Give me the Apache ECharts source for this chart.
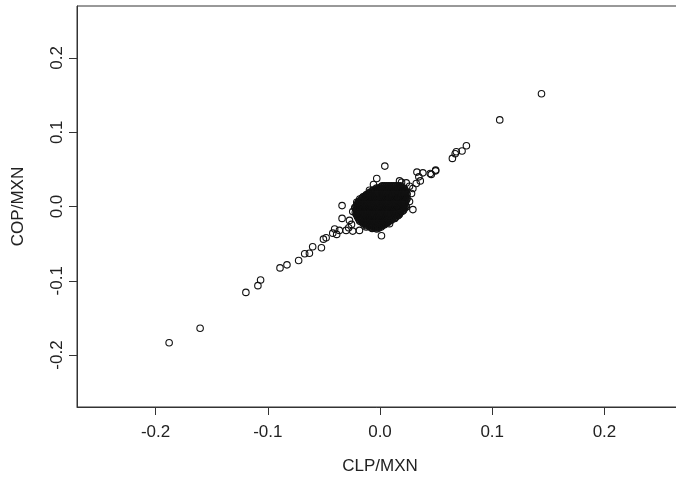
<!DOCTYPE html>
<html>
<head>
<meta charset="utf-8">
<script src="https://cdn.jsdelivr.net/npm/echarts@6/dist/echarts.min.js"></script>
<style>html,body{margin:0;padding:0;background:#fff;}#c{width:676px;height:478px;}</style>
</head>
<body>
<div id="c"></div>
<script>
// Axis tick values
const xTicks = [-0.2, -0.1, 0.0, 0.1, 0.2];
const yTicks = [-0.2, -0.1, 0.0, 0.1, 0.2];

// Dense core of the cloud: row y-values (COP/MXN) and the CLP/MXN values in each row
const coreRowY = [
  0.028, 0.0265, 0.025, 0.0235, 0.022, 0.0205, 0.019, 0.0175, 0.016, 0.0145,
  0.013, 0.0115, 0.010, 0.0085, 0.007, 0.0055, 0.004, 0.0025, 0.001, -0.0005,
  -0.002, -0.0035, -0.005, -0.0065, -0.008, -0.0095, -0.011, -0.0125, -0.014, -0.0155,
  -0.017, -0.0185, -0.020, -0.0215, -0.023, -0.0245, -0.026, -0.0275, -0.029
];
const coreRowX = [
  [0.002,0.004,0.006,0.008,0.010,0.012,0.014,0.016,0.018],
  [0.001,0.003,0.005,0.007,0.009,0.011,0.013,0.015,0.017,0.019],
  [-0.003,-0.001,0.001,0.003,0.005,0.007,0.009,0.011,0.013,0.015,0.017,0.019,0.021],
  [-0.004,-0.002,0.000,0.002,0.004,0.006,0.008,0.010,0.012,0.014,0.016,0.018,0.020,0.022],
  [-0.006,-0.004,-0.002,0.000,0.002,0.004,0.006,0.008,0.010,0.012,0.014,0.016,0.018,0.020,0.022],
  [-0.007,-0.005,-0.003,-0.001,0.001,0.003,0.005,0.007,0.009,0.011,0.013,0.015,0.017,0.019,0.021,0.023],
  [-0.009,-0.007,-0.005,-0.003,-0.001,0.001,0.003,0.005,0.007,0.009,0.011,0.013,0.015,0.017,0.019,0.021,0.023],
  [-0.010,-0.008,-0.006,-0.004,-0.002,0.000,0.002,0.004,0.006,0.008,0.010,0.012,0.014,0.016,0.018,0.020,0.022,0.024],
  [-0.012,-0.010,-0.008,-0.006,-0.004,-0.002,0.000,0.002,0.004,0.006,0.008,0.010,0.012,0.014,0.016,0.018,0.020,0.022,0.024],
  [-0.013,-0.011,-0.009,-0.007,-0.005,-0.003,-0.001,0.001,0.003,0.005,0.007,0.009,0.011,0.013,0.015,0.017,0.019,0.021,0.023],
  [-0.015,-0.013,-0.011,-0.009,-0.007,-0.005,-0.003,-0.001,0.001,0.003,0.005,0.007,0.009,0.011,0.013,0.015,0.017,0.019,0.021,0.023],
  [-0.016,-0.014,-0.012,-0.010,-0.008,-0.006,-0.004,-0.002,0.000,0.002,0.004,0.006,0.008,0.010,0.012,0.014,0.016,0.018,0.020,0.022,0.024],
  [-0.018,-0.016,-0.014,-0.012,-0.010,-0.008,-0.006,-0.004,-0.002,0.000,0.002,0.004,0.006,0.008,0.010,0.012,0.014,0.016,0.018,0.020,0.022,0.024],
  [-0.017,-0.015,-0.013,-0.011,-0.009,-0.007,-0.005,-0.003,-0.001,0.001,0.003,0.005,0.007,0.009,0.011,0.013,0.015,0.017,0.019,0.021,0.023],
  [-0.019,-0.017,-0.015,-0.013,-0.011,-0.009,-0.007,-0.005,-0.003,-0.001,0.001,0.003,0.005,0.007,0.009,0.011,0.013,0.015,0.017,0.019,0.021,0.023],
  [-0.018,-0.016,-0.014,-0.012,-0.010,-0.008,-0.006,-0.004,-0.002,0.000,0.002,0.004,0.006,0.008,0.010,0.012,0.014,0.016,0.018,0.020,0.022],
  [-0.020,-0.018,-0.016,-0.014,-0.012,-0.010,-0.008,-0.006,-0.004,-0.002,0.000,0.002,0.004,0.006,0.008,0.010,0.012,0.014,0.016,0.018,0.020,0.022],
  [-0.019,-0.017,-0.015,-0.013,-0.011,-0.009,-0.007,-0.005,-0.003,-0.001,0.001,0.003,0.005,0.007,0.009,0.011,0.013,0.015,0.017,0.019,0.021],
  [-0.021,-0.019,-0.017,-0.015,-0.013,-0.011,-0.009,-0.007,-0.005,-0.003,-0.001,0.001,0.003,0.005,0.007,0.009,0.011,0.013,0.015,0.017,0.019,0.021,0.023],
  [-0.020,-0.018,-0.016,-0.014,-0.012,-0.010,-0.008,-0.006,-0.004,-0.002,0.000,0.002,0.004,0.006,0.008,0.010,0.012,0.014,0.016,0.018,0.020,0.022],
  [-0.022,-0.020,-0.018,-0.016,-0.014,-0.012,-0.010,-0.008,-0.006,-0.004,-0.002,0.000,0.002,0.004,0.006,0.008,0.010,0.012,0.014,0.016,0.018,0.020,0.022],
  [-0.021,-0.019,-0.017,-0.015,-0.013,-0.011,-0.009,-0.007,-0.005,-0.003,-0.001,0.001,0.003,0.005,0.007,0.009,0.011,0.013,0.015,0.017,0.019,0.021],
  [-0.021,-0.019,-0.017,-0.015,-0.013,-0.011,-0.009,-0.007,-0.005,-0.003,-0.001,0.001,0.003,0.005,0.007,0.009,0.011,0.013,0.015,0.017,0.019,0.021],
  [-0.020,-0.018,-0.016,-0.014,-0.012,-0.010,-0.008,-0.006,-0.004,-0.002,0.000,0.002,0.004,0.006,0.008,0.010,0.012,0.014,0.016,0.018,0.020],
  [-0.022,-0.020,-0.018,-0.016,-0.014,-0.012,-0.010,-0.008,-0.006,-0.004,-0.002,0.000,0.002,0.004,0.006,0.008,0.010,0.012,0.014,0.016,0.018],
  [-0.021,-0.019,-0.017,-0.015,-0.013,-0.011,-0.009,-0.007,-0.005,-0.003,-0.001,0.001,0.003,0.005,0.007,0.009,0.011,0.013,0.015,0.017],
  [-0.021,-0.019,-0.017,-0.015,-0.013,-0.011,-0.009,-0.007,-0.005,-0.003,-0.001,0.001,0.003,0.005,0.007,0.009,0.011,0.013,0.015,0.017],
  [-0.020,-0.018,-0.016,-0.014,-0.012,-0.010,-0.008,-0.006,-0.004,-0.002,0.000,0.002,0.004,0.006,0.008,0.010,0.012,0.014,0.016],
  [-0.020,-0.018,-0.016,-0.014,-0.012,-0.010,-0.008,-0.006,-0.004,-0.002,0.000,0.002,0.004,0.006,0.008,0.010,0.012,0.014],
  [-0.019,-0.017,-0.015,-0.013,-0.011,-0.009,-0.007,-0.005,-0.003,-0.001,0.001,0.003,0.005,0.007,0.009,0.011,0.013],
  [-0.019,-0.017,-0.015,-0.013,-0.011,-0.009,-0.007,-0.005,-0.003,-0.001,0.001,0.003,0.005,0.007,0.009,0.011],
  [-0.018,-0.016,-0.014,-0.012,-0.010,-0.008,-0.006,-0.004,-0.002,0.000,0.002,0.004,0.006,0.008,0.010],
  [-0.018,-0.016,-0.014,-0.012,-0.010,-0.008,-0.006,-0.004,-0.002,0.000,0.002,0.004,0.006,0.008],
  [-0.015,-0.013,-0.011,-0.009,-0.007,-0.005,-0.003,-0.001,0.001,0.003,0.005,0.007],
  [-0.015,-0.013,-0.011,-0.009,-0.007,-0.005,-0.003,-0.001,0.001,0.003,0.005],
  [-0.012,-0.010,-0.008,-0.006,-0.004,-0.002,0.000,0.002,0.004],
  [-0.012,-0.010,-0.008,-0.006,-0.004,-0.002,0.000,0.002],
  [-0.009,-0.007,-0.005,-0.003,-0.001,0.001],
  [-0.007,-0.005,-0.003,-0.001]
];

// Scattered points around the core and along the diagonal tails
const clpOuter = [
  -0.1879, -0.1603, -0.1195, -0.1088, -0.1064, -0.0891, -0.0829, -0.0725, -0.0671, -0.0629,
  -0.0600, -0.0522, -0.0504, -0.0480, -0.0421, -0.0404, -0.0386, -0.0362, -0.0338, -0.0338,
  -0.0302, -0.0279, -0.0272, -0.0254, -0.0243, -0.0243, -0.0225, -0.0207, -0.0183, -0.0180,
  -0.0136, -0.0123, -0.0094, -0.0070, -0.0058, -0.0029, -0.0029, 0.0013, 0.0020, 0.0043,
  0.0061, 0.0085, 0.0132, 0.0174, 0.0174, 0.0192, 0.0234, 0.0234, 0.0263, 0.0263,
  0.0281, 0.0293, 0.0293, 0.0323, 0.0329, 0.0346, 0.0359, 0.0382, 0.0448, 0.0457,
  0.0496, 0.0496, 0.0645, 0.0670, 0.0680, 0.0731, 0.0770, 0.1067, 0.1439
];
const copOuter = [
  -0.1834, -0.1639, -0.1157, -0.1066, -0.0989, -0.0827, -0.0786, -0.0728, -0.0637, -0.0629,
  -0.0543, -0.0556, -0.0440, -0.0421, -0.0359, -0.0304, -0.0376, -0.0322, 0.0012, -0.0160,
  -0.0322, -0.0286, -0.0187, -0.0241, -0.0069, -0.0331, -0.0015, 0.0057, -0.0322, 0.0066,
  0.0138, -0.0277, 0.0219, -0.0295, 0.0296, 0.0377, -0.0304, -0.0394, -0.0250, 0.0544,
  -0.0196, -0.0231, -0.0160, 0.0345, -0.0096, 0.0327, 0.0318, -0.0007, 0.0273, 0.0066,
  0.0175, 0.0242, -0.0042, 0.0310, 0.0463, 0.0399, 0.0345, 0.0453, 0.0445, 0.0432,
  0.0480, 0.0490, 0.0648, 0.0710, 0.0738, 0.0747, 0.0819, 0.1166, 0.1518
];

const points = [];
coreRowX.forEach(function (row, i) {
  row.forEach(function (x) { points.push([x, coreRowY[i]]); });
});
clpOuter.forEach(function (x, i) { points.push([x, copOuter[i]]); });

const font = '"Liberation Sans", Arial, Helvetica, sans-serif';
const chart = echarts.init(document.getElementById('c'), null, {renderer: 'canvas'});
chart.setOption({
  animation: false,
  backgroundColor: '#ffffff',
  grid: {left: 77, top: 6, width: 606, height: 401, containLabel: false, outerBoundsMode: 'none',
    show: true, borderColor: '#333', borderWidth: 1, backgroundColor: 'transparent'},
  xAxis: {
    type: 'value', min: -0.27, max: 0.27,
    name: 'CLP/MXN', nameLocation: 'middle', nameGap: 51,
    nameTextStyle: {fontFamily: font, fontSize: 17, color: '#222'},
    axisLine: {show: true, onZero: false, lineStyle: {color: '#333', width: 1}},
    axisTick: {show: true, length: 8, lineStyle: {color: '#333'}, customValues: xTicks},
    axisLabel: {fontFamily: font, fontSize: 17, color: '#222', margin: 17, customValues: xTicks,
      formatter: function (v) { return v.toFixed(1); }},
    splitLine: {show: false}
  },
  yAxis: {
    type: 'value', min: -0.27, max: 0.27,
    name: 'COP/MXN', nameLocation: 'middle', nameGap: 50, nameRotate: 90,
    nameTextStyle: {fontFamily: font, fontSize: 17, color: '#222'},
    axisLine: {show: true, onZero: false, lineStyle: {color: '#333', width: 1}},
    axisTick: {show: true, length: 8, lineStyle: {color: '#333'}, customValues: yTicks},
    axisLabel: {fontFamily: font, fontSize: 17, color: '#222', margin: 11, rotate: 90, customValues: yTicks,
      formatter: function (v) { return v.toFixed(1); }},
    splitLine: {show: false}
  },
  series: [{
    type: 'scatter',
    data: points,
    symbol: 'circle',
    symbolSize: 6.5,
    itemStyle: {color: 'rgba(0,0,0,0)', borderColor: '#111', borderWidth: 1.1, opacity: 1},
    emphasis: {disabled: true}
  }]
});
</script>
</body>
</html>
